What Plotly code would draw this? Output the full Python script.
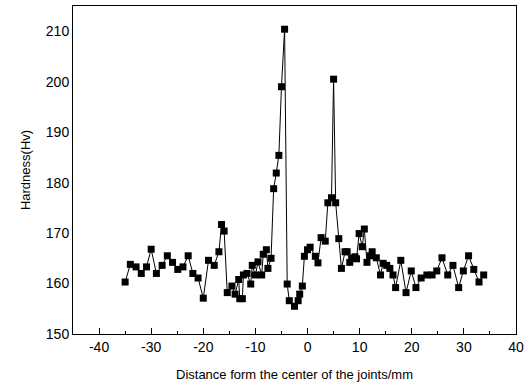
import plotly.graph_objects as go

distance = [-35.0, -34.0, -32.9, -31.9, -30.9, -30.0, -29.0, -27.9, -26.9, -25.9,
            -24.9, -23.9, -22.9, -22.0, -21.0, -20.0, -19.0, -17.9, -17.0, -16.5,
            -16.0, -15.4, -14.5, -13.9, -13.2, -13.0, -12.5, -12.3, -11.6, -10.9,
            -10.6, -10.0, -9.5, -8.8, -8.5, -7.9, -7.6, -7.0, -6.5, -6.0,
            -5.5, -5.0, -4.4, -3.9, -3.5, -2.5, -1.8, -1.5, -1.0, -0.6,
            0.0, 0.5, 1.5, 2.0, 2.6, 3.4, 3.9, 4.6, 5.0, 5.4,
            6.0, 6.5, 7.2, 7.6, 8.1, 8.6, 9.1, 9.4, 9.9, 10.5,
            10.9, 11.4, 12.0, 12.4, 13.2, 14.0, 14.5, 15.2, 15.8, 16.4,
            16.9, 17.9, 18.9, 19.9, 20.8, 21.8, 22.9, 23.9, 24.8, 25.8,
            26.9, 27.9, 29.0, 29.9, 30.9, 31.9, 32.9, 33.8]
hardness = [160.3, 163.8, 163.3, 162.0, 163.3, 166.8, 162.0, 163.6, 165.5, 164.2,
            162.8, 163.3, 165.5, 162.0, 161.1, 157.1, 164.6, 163.6, 166.3, 171.7,
            170.4, 158.2, 159.5, 157.9, 160.8, 157.0, 157.0, 161.7, 162.0, 159.9,
            163.6, 161.7, 164.3, 161.7, 165.8, 166.7, 163.0, 165.0, 178.8, 181.9,
            185.4, 199.0, 210.4, 159.9, 156.6, 155.5, 156.6, 157.9, 159.5, 165.4,
            166.7, 167.2, 165.4, 164.1, 169.1, 168.4, 176.0, 177.0, 200.5, 176.0,
            168.9, 163.0, 166.3, 166.3, 164.2, 165.0, 165.3, 164.9, 169.9, 167.3,
            170.8, 164.2, 165.5, 166.3, 165.1, 161.7, 164.0, 163.6, 163.0, 161.7,
            159.2, 164.6, 158.2, 162.5, 159.2, 161.1, 161.7, 161.7, 162.5, 165.1,
            161.7, 163.6, 159.2, 162.5, 165.5, 162.8, 160.3, 161.7]

x_ticks = [-40, -30, -20, -10, 0, 10, 20, 30, 40]
y_ticks = [150, 160, 170, 180, 190, 200, 210]

fig = go.Figure()
fig.add_trace(go.Scatter(
    x=distance, y=hardness, mode="lines+markers",
    line=dict(color="black", width=1),
    marker=dict(symbol="square", size=7, color="black"),
    showlegend=False,
))

font = dict(family="Liberation Sans, Arial, sans-serif", color="black")
fig.update_layout(
    width=529, height=392,
    margin=dict(l=73, r=10, t=5, b=58),
    paper_bgcolor="white", plot_bgcolor="white",
    font=dict(**font, size=14),
    xaxis=dict(
        range=[-45, 40], tickvals=x_ticks, ticktext=[str(v) for v in x_ticks],
        ticks="inside", ticklen=6, tickcolor="black", tickwidth=1,
        minor=dict(dtick=5, tick0=0, ticks="inside", ticklen=3, tickcolor="black", showgrid=False),
        showgrid=False, zeroline=False, showline=True, mirror=True,
        linecolor="black", linewidth=1,
        title=dict(text="Distance form the center of the joints/mm", font=dict(size=13), standoff=16),
        tickfont=dict(size=14),
    ),
    yaxis=dict(
        range=[150, 215], tickvals=y_ticks, ticktext=[str(v) for v in y_ticks],
        ticks="", showgrid=False, zeroline=False, showline=True, mirror=True,
        linecolor="black", linewidth=1,
        title=dict(text="Hardness(Hv)", font=dict(size=13), standoff=12),
        tickfont=dict(size=14),
    ),
)
fig.write_html("out.html")
